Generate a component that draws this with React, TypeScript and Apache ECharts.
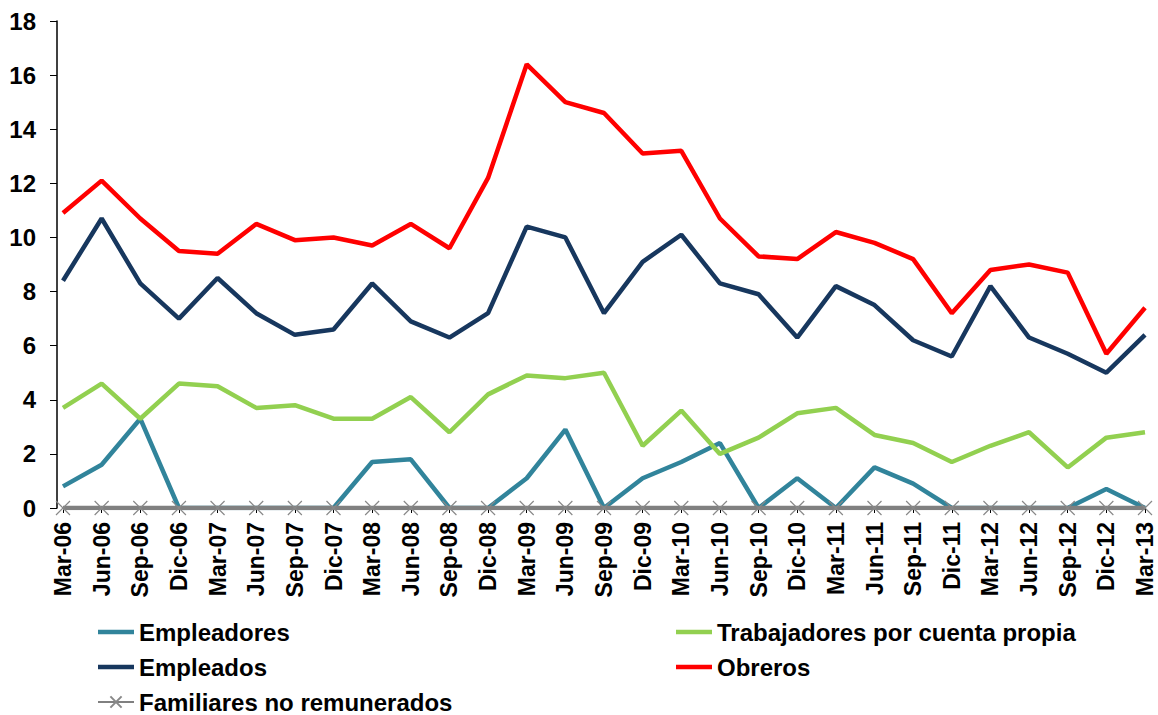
import React, { useEffect, useRef } from "react";
import * as echarts from "echarts";

const categories = ["Mar-06","Jun-06","Sep-06","Dic-06","Mar-07","Jun-07","Sep-07","Dic-07","Mar-08","Jun-08","Sep-08","Dic-08","Mar-09","Jun-09","Sep-09","Dic-09","Mar-10","Jun-10","Sep-10","Dic-10","Mar-11","Jun-11","Sep-11","Dic-11","Mar-12","Jun-12","Sep-12","Dic-12","Mar-13"];
const empleadores = [0.8,1.6,3.3,0,0,0,0,0,1.7,1.8,0,0,1.1,2.9,0,1.1,1.7,2.4,0,1.1,0,1.5,0.9,0,0,0,0,0.7,0];
const trabajadores = [3.7,4.6,3.3,4.6,4.5,3.7,3.8,3.3,3.3,4.1,2.8,4.2,4.9,4.8,5.0,2.3,3.6,2.0,2.6,3.5,3.7,2.7,2.4,1.7,2.3,2.8,1.5,2.6,2.8];
const empleados = [8.4,10.7,8.3,7.0,8.5,7.2,6.4,6.6,8.3,6.9,6.3,7.2,10.4,10.0,7.2,9.1,10.1,8.3,7.9,6.3,8.2,7.5,6.2,5.6,8.2,6.3,5.7,5.0,6.4];
const obreros = [10.9,12.1,10.7,9.5,9.4,10.5,9.9,10.0,9.7,10.5,9.6,12.2,16.4,15.0,14.6,13.1,13.2,10.7,9.3,9.2,10.2,9.8,9.2,7.2,8.8,9.0,8.7,5.7,7.4];
const familiares = [0,0,0,0,0,0,0,0,0,0,0,0,0,0,0,0,0,0,0,0,0,0,0,0,0,0,0,0,0];

const FONT = "'Liberation Sans', Arial, sans-serif";
const X_SYMBOL = "path://M0,0L10,10M10,0L0,10";
const LINE_ICON = "path://M0,0H36V4.5H0Z";

export default function App() {
  const ref = useRef<HTMLDivElement>(null);
  useEffect(() => {
    if (!ref.current) return;
    const chart = echarts.init(ref.current, null, { renderer: "svg" });
    const line = (name: string, data: number[], color: string, width = 4.5) => ({
      name,
      type: "line",
      data,
      symbol: "none",
      showSymbol: false,
      lineStyle: { color, width },
      itemStyle: { color },
    });
    const legendText = { fontFamily: FONT, fontWeight: "bold", fontSize: 24, color: "#000", lineHeight: 24 };
    chart.setOption({
      animation: false,
      backgroundColor: "#fff",
      grid: { left: 63, right: 13, top: 21, bottom: 207, containLabel: false },
      legend: [
        {
          left: 97, top: 620, orient: "vertical", padding: 0, itemGap: 11,
          itemWidth: 36, itemHeight: 14,
          data: [
            { name: "Empleadores", icon: LINE_ICON },
            { name: "Empleados", icon: LINE_ICON },
            { name: "Familiares no remunerados" },
          ],
          textStyle: legendText,
        },
        {
          left: 676, top: 620, orient: "vertical", padding: 0, itemGap: 11,
          itemWidth: 36, itemHeight: 14,
          data: [
            { name: "Trabajadores por cuenta propia", icon: LINE_ICON },
            { name: "Obreros", icon: LINE_ICON },
          ],
          textStyle: legendText,
        },
      ],
      xAxis: {
        type: "category",
        data: categories,
        boundaryGap: false,
        axisLine: { show: true, lineStyle: { color: "#000", width: 1.5 } },
        axisTick: { show: true, length: 5, lineStyle: { color: "#000" } },
        axisLabel: { rotate: 90, interval: 0, margin: 14, fontFamily: FONT, fontWeight: "bold", fontSize: 23, color: "#000" },
        splitLine: { show: false },
      },
      yAxis: {
        type: "value",
        min: 0,
        max: 18,
        interval: 2,
        offset: 6,
        axisLine: { show: true, lineStyle: { color: "#000", width: 1.5 } },
        axisTick: { show: true, length: 7, lineStyle: { color: "#000" } },
        axisLabel: { margin: 21, fontFamily: FONT, fontWeight: "bold", fontSize: 24, color: "#000" },
        splitLine: { show: false },
      },
      series: [
        line("Empleadores", empleadores, "#31849B"),
        line("Trabajadores por cuenta propia", trabajadores, "#92D050"),
        line("Empleados", empleados, "#17375E"),
        line("Obreros", obreros, "#FF0000"),
        {
          name: "Familiares no remunerados",
          type: "line",
          data: familiares,
          symbol: X_SYMBOL,
          symbolSize: 14,
          showSymbol: true,
          lineStyle: { color: "#808080", width: 4.5 },
          itemStyle: { color: "transparent", borderColor: "#888888", borderWidth: 1.2 },
        },
      ],
    });
    return () => chart.dispose();
  }, []);
  return <div ref={ref} style={{ position: "fixed", left: 0, top: 0, width: 1158, height: 715 }} />;
}
